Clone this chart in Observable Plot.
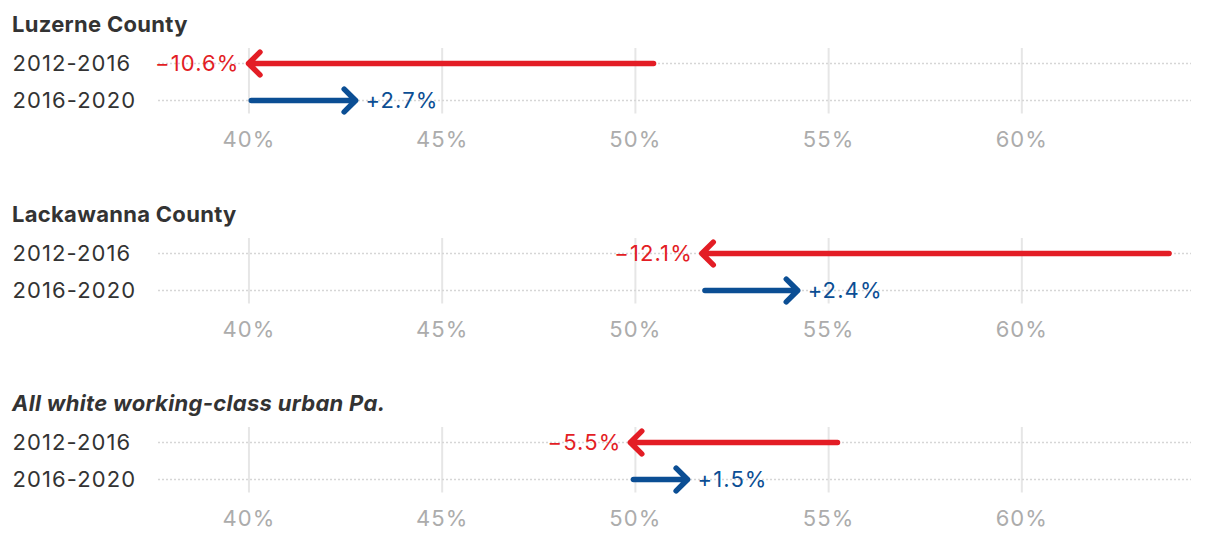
<!DOCTYPE html>
<html>
<head>
<meta charset="utf-8">
<script src="https://cdn.jsdelivr.net/npm/d3@7"></script>
<script src="https://cdn.jsdelivr.net/npm/@observablehq/plot@0.6"></script>
<style>
  html, body { margin: 0; padding: 0; background: #fff; }
  #chart { width: 1220px; }
  .panel-title {
    font-family: Inter, "Noto Sans", sans-serif;
    font-weight: 700;
    font-size: 22px;
    color: #333;
    height: 44px;
    line-height: 40px;
    padding: 4px 0 0 12px;
    box-sizing: border-box;
    letter-spacing: 0.3px;
  }
  .panel-title.italic { font-style: italic; }
  svg { display: block; }
  svg text { letter-spacing: 1.1px; }
</style>
</head>
<body>
<div id="chart"></div>
<script>
// ---- data ----
const panels = ["Luzerne County", "Lackawanna County", "All white working-class urban Pa."];
const periods = ["2012-2016", "2016-2020"];
// share at the start and end of each period (percent)
const startShare = [[50.47, 40.06], [63.81, 51.8], [55.23, 49.95]];
const endShare   = [[39.99, 42.76], [51.72, 54.2], [49.87, 51.35]];
const changes    = [[-10.6, 2.7], [-12.1, 2.4], [-5.5, 1.5]];
const xTicks = [40, 45, 50, 55, 60];
const xDomain = [37.66, 64.39];
const colors = {neg: "#e31d25", pos: "#0b4e94"};

const fmtChange = v => (v < 0 ? "\u2212" : "+") + Math.abs(v).toFixed(1) + "%";

const chart = document.getElementById("chart");

panels.forEach((name, p) => {
  const title = document.createElement("div");
  title.className = "panel-title" + (p === 2 ? " italic" : "");
  title.textContent = name;
  chart.appendChild(title);

  const rows = periods.map((period, i) => ({
    period,
    x1: startShare[p][i],
    x2: endShare[p][i],
    change: changes[p][i],
    color: changes[p][i] < 0 ? colors.neg : colors.pos
  }));

  const svg = Plot.plot({
    width: 1220,
    height: 145.5,
    marginLeft: 158,
    marginRight: 29,
    marginTop: 4,
    marginBottom: 76,
    style: {fontFamily: "Inter, 'Noto Sans', sans-serif", fontSize: "22px", background: "white", overflow: "visible"},
    x: {domain: xDomain, axis: null},
    y: {type: "point", domain: periods, padding: 0, insetTop: 14.5, insetBottom: 13.5, axis: null},
    marks: [
      Plot.ruleX(xTicks, {stroke: "#e6e6e6", strokeWidth: 2}),
      Plot.ruleY(periods, {y: d => d, stroke: "#d6d6d6", strokeWidth: 1.5, strokeDasharray: "2,2"}),
      Plot.text(xTicks, {x: d => d, frameAnchor: "bottom", dy: 26, text: d => d + "%", fill: "#acacac", fontSize: 22, lineAnchor: "middle"}),
      Plot.text(periods, {y: d => d, frameAnchor: "left", dx: -146, textAnchor: "start", text: d => d, fill: "#333", fontSize: 22}),
      Plot.arrow(rows, {
        x1: "x1", x2: "x2", y: "period",
        stroke: "color", strokeWidth: 5.5,
        headAngle: 90, headLength: 4.4,
        strokeLinecap: "round", strokeLinejoin: "round"
      }),
      Plot.text(rows.filter(d => d.change < 0), {x: "x2", y: "period", text: d => fmtChange(d.change), fill: "color", textAnchor: "end", dx: -9, fontSize: 22}),
      Plot.text(rows.filter(d => d.change >= 0), {x: "x2", y: "period", text: d => fmtChange(d.change), fill: "color", textAnchor: "start", dx: 10, fontSize: 22})
    ]
  });
  chart.appendChild(svg);
});
</script>
</body>
</html>
